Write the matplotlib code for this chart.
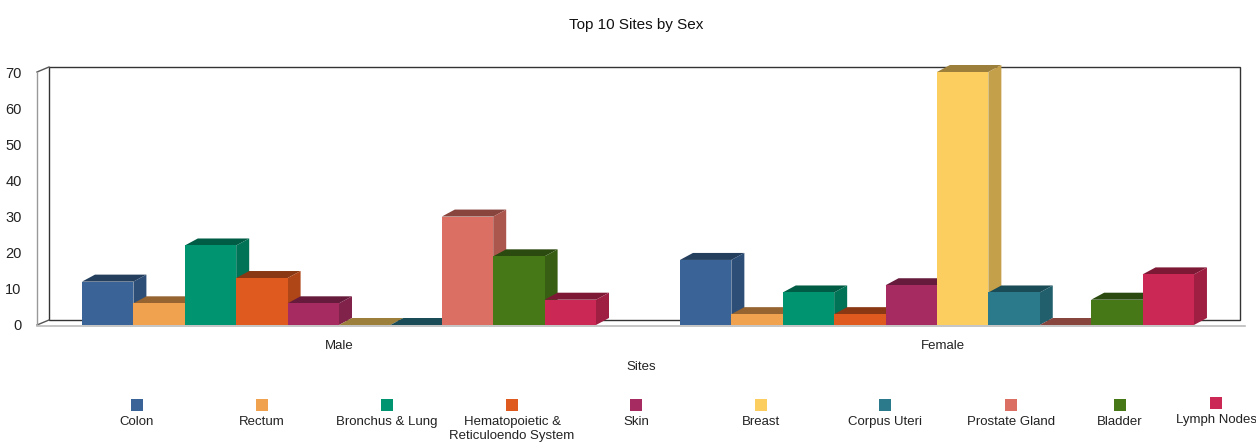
import matplotlib.pyplot as plt
import numpy as np
from matplotlib.patches import Polygon, Rectangle
from matplotlib.colors import to_rgb

plt.rcParams['font.family'] = ['Liberation Sans', 'DejaVu Sans']

# data
groups = ['Male', 'Female']
sites = ['Colon', 'Rectum', 'Bronchus & Lung', 'Hematopoietic &\nReticuloendo System',
         'Skin', 'Breast', 'Corpus Uteri', 'Prostate Gland', 'Bladder', 'Lymph Nodes']
male = [12, 6, 22, 13, 6, 0, 0, 30, 19, 7]
female = [18, 3, 9, 3, 11, 70, 9, 0, 7, 14]
colors = ['#3a6497', '#f0a24f', '#009470', '#df5a1f', '#a52b60',
          '#fccd5f', '#2a7a8c', '#dc6f63', '#467818', '#cc2856']
yticks = [0, 10, 20, 30, 40, 50, 60, 70]

W, H = 1256, 445
fig = plt.figure(figsize=(W / 100, H / 100), dpi=100)
ax = fig.add_axes([37 / W, 120 / H, 1208 / W, 253 / H])
ax.set_xlim(-0.5, 1.5)
ax.set_ylim(0, 70)
for s in ax.spines.values():
    s.set_visible(False)

# depth of the 3d look, converted from pixels to data units
xpx = 2.0 / 1208
ypx = 70.0 / 253
bdx, bdy = 13 * xpx, 7 * ypx
wdx, wdy = 12 * xpx, 5 * ypx


def shade(c, f):
    r, g, b = to_rgb(c)
    return (r * f, g * f, b * f)


# walls
x0, x1 = -0.5, 1.5
ax.add_patch(Polygon([(x0 + wdx, wdy), (x1 - 5 * xpx, wdy), (x1 - 5 * xpx, 70 + wdy),
                      (x0 + wdx, 70 + wdy)], closed=True, fill=False,
                     edgecolor='#333333', lw=1, clip_on=False))
ax.plot([x0, x0 + wdx], [0, wdy], color='#555555', lw=1, clip_on=False)
ax.plot([x0, x0 + wdx], [70, 70 + wdy], color='#555555', lw=1, clip_on=False)
ax.plot([x0, x0], [0, 70], color='#999999', lw=1, clip_on=False)
ax.plot([x0, x1], [-0.4, -0.4], color='#bbbbbb', lw=1.2, clip_on=False)

# bars
n = len(sites)
slot = 0.851 / n
for gi, vals in enumerate([male, female]):
    start = gi - 0.851 / 2 - gi * 0.01
    for i, v in enumerate(vals):
        left = start + i * slot
        c = colors[i]
        ax.add_patch(Polygon([(left, v), (left + bdx, v + bdy),
                              (left + slot + bdx, v + bdy), (left + slot, v)],
                             closed=True, facecolor=shade(c, 0.62), edgecolor='none',
                             clip_on=False, zorder=3))
        ax.add_patch(Polygon([(left + slot, 0), (left + slot + bdx, bdy),
                              (left + slot + bdx, v + bdy), (left + slot, v)],
                             closed=True, facecolor=shade(c, 0.78), edgecolor='none',
                             clip_on=False, zorder=3))
        ax.bar(left, v, width=slot, align='edge', color=c, zorder=3, clip_on=False)

ax.set_yticks(yticks)
ax.set_yticklabels([str(t) for t in yticks], fontsize=10.5, color='#222222')
ax.tick_params(axis='y', length=0, pad=11)
ax.set_xticks([0, 1])
ax.set_xticklabels(groups, fontsize=9.5, color='#222222')
ax.tick_params(axis='x', length=0, pad=11)
ax.set_xlabel('Sites', fontsize=9.5, color='#222222', labelpad=6)

fig.text(636 / W, 1 - 25 / H, 'Top 10 Sites by Sex', ha='center', va='center',
         fontsize=11, color='#111111')

# legend
leg_x = [137, 262, 387, 512, 636, 761, 885, 1011, 1120, 1216]
for i, name in enumerate(sites):
    ly = 405 if i < 9 else 403
    fig.patches.append(Rectangle(((leg_x[i] - 6) / W, 1 - (ly + 6) / H), 12 / W, 12 / H,
                                 transform=fig.transFigure, facecolor=colors[i],
                                 edgecolor='none'))
    ty = 416 if i < 9 else 414
    fig.text(leg_x[i] / W, 1 - ty / H, name, ha='center', va='top',
             fontsize=9.5, color='#222222', linespacing=1.2)

fig.savefig('out.png', dpi=100)
